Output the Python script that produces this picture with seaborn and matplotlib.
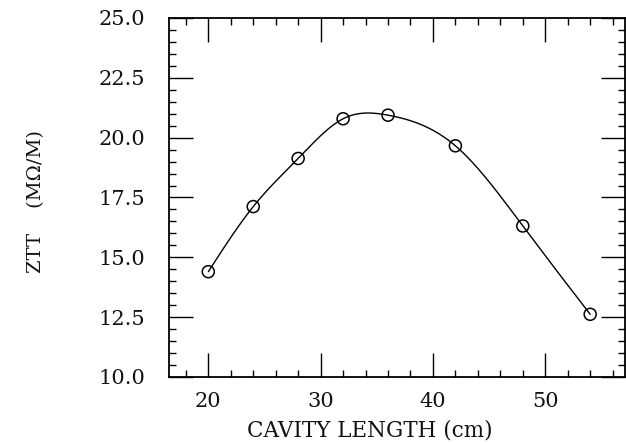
import numpy as np
import pandas as pd
import matplotlib
matplotlib.use("Agg")
import matplotlib.pyplot as plt
import seaborn as sns
from matplotlib.ticker import MultipleLocator

# data
cavity_length = [20, 24, 28, 32, 36, 42, 48, 54]
ztt = [14.40, 17.12, 19.13, 20.79, 20.94, 19.66, 16.31, 12.62]
x_ticks = [20, 30, 40, 50]
y_ticks = [10.0, 12.5, 15.0, 17.5, 20.0, 22.5, 25.0]


def natural_spline(x, y, n=400):
    x = np.asarray(x, float)
    y = np.asarray(y, float)
    m = len(x)
    h = np.diff(x)
    A = np.zeros((m, m))
    b = np.zeros(m)
    A[0, 0] = A[-1, -1] = 1.0
    for i in range(1, m - 1):
        A[i, i - 1] = h[i - 1]
        A[i, i] = 2 * (h[i - 1] + h[i])
        A[i, i + 1] = h[i]
        b[i] = 6 * ((y[i + 1] - y[i]) / h[i] - (y[i] - y[i - 1]) / h[i - 1])
    M = np.linalg.solve(A, b)
    xs = np.linspace(x[0], x[-1], n)
    idx = np.clip(np.searchsorted(x, xs) - 1, 0, m - 2)
    x0, x1 = x[idx], x[idx + 1]
    hh = x1 - x0
    ys = (M[idx] * (x1 - xs) ** 3 / (6 * hh) + M[idx + 1] * (xs - x0) ** 3 / (6 * hh)
          + (y[idx] / hh - M[idx] * hh / 6) * (x1 - xs)
          + (y[idx + 1] / hh - M[idx + 1] * hh / 6) * (xs - x0))
    return xs, ys


sns.set_theme(style="white")
plt.rcParams['font.family'] = ['DejaVu Serif']

pts = pd.DataFrame({"x": cavity_length, "y": ztt})
cx, cy = natural_spline(cavity_length, ztt)
curve = pd.DataFrame({"x": cx, "y": cy})

fig = plt.figure(figsize=(6.26, 4.43), dpi=100)
ax = fig.add_axes([169 / 626, 1 - 377 / 443, (625 - 169) / 626, (377 - 18) / 443])

sns.lineplot(data=curve, x="x", y="y", ax=ax, color="black", linewidth=1.0, sort=False)
sns.scatterplot(data=pts, x="x", y="y", ax=ax, marker="o", s=75,
                facecolor="none", edgecolor="black", linewidth=1.1, zorder=3)

ax.set_xlim(16.5, 57.1)
ax.set_ylim(10, 25)
ax.set_xticks(x_ticks)
ax.set_yticks(y_ticks)
ax.set_yticklabels([f"{v:.1f}" for v in y_ticks])
ax.xaxis.set_minor_locator(MultipleLocator(2))
ax.yaxis.set_minor_locator(MultipleLocator(0.5))
ax.tick_params(which="major", direction="in", length=17, width=1.0, color="black",
               top=True, right=True, bottom=True, left=True, labelsize=15,
               labelcolor="#111111")
ax.tick_params(which="minor", direction="in", length=5, width=1.0, color="black",
               top=True, right=True, bottom=True, left=True)
ax.tick_params(axis="y", which="major", pad=17)
ax.tick_params(axis="x", which="major", pad=11)
for s in ax.spines.values():
    s.set_color("black")
    s.set_linewidth(1.3)

ax.set_xlabel("CAVITY LENGTH (cm)", fontsize=15.5, color="#111111")
ax.xaxis.set_label_coords((370 - 169) / 456, -(419 - 377) / 359)
ax.set_ylabel("ZTT    (MΩ/M)", fontsize=14, color="#111111")
ax.yaxis.set_label_coords(-(169 - 45) / 456, 0.49)

fig.savefig("out.png", dpi=100, facecolor="white")
